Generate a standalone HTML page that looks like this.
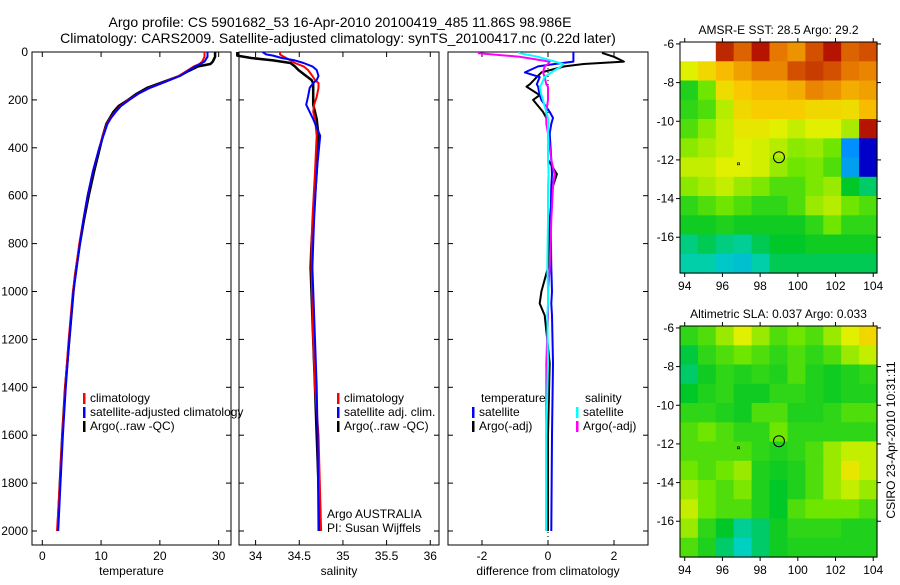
<!DOCTYPE html>
<html><head><meta charset="utf-8"><style>
body{margin:0;background:#fff}
svg text{font-family:"Liberation Sans",sans-serif;fill:#000}
</style></head><body>
<svg id="fig" width="900" height="580" viewBox="0 0 900 580" xmlns="http://www.w3.org/2000/svg">
<rect width="900" height="580" fill="#fff"/>
<text x="340" y="27" font-size="14" text-anchor="middle">Argo profile: CS 5901682_53 16-Apr-2010 20100419_485 11.86S 98.986E</text>
<text x="338" y="43" font-size="14" text-anchor="middle">Climatology: CARS2009. Satellite-adjusted climatology: synTS_20100417.nc (0.22d later)</text>
<g id="g"></g>
</svg>
<script>
// ---- profile data ----
const tDepth=[0,20,40,50,60,80,100,125,150,175,200,225,250,275,300,350,400,500,600,700,800,930,1000,1200,1400,1600,1800,2000];
const tClim=[27.6,27.6,27.2,26.7,25.8,24.5,23.2,20.8,18.2,16.3,14.7,13.3,12.4,11.6,11.0,10.3,9.7,8.6,7.7,7.0,6.3,5.6,5.2,4.5,3.9,3.4,3.0,2.5];
const tSat=[28.1,28.1,27.6,26.9,26.0,24.7,23.4,20.9,18.3,16.3,14.8,13.4,12.5,11.7,11.1,10.4,9.7,8.6,7.7,7.0,6.4,5.7,5.3,4.6,4.0,3.5,3.1,2.7];
const tArgo=[29.4,29.4,29.0,28.6,26.5,24.8,23.3,20.6,17.8,16.0,14.6,13.0,12.1,11.5,10.9,10.3,9.8,8.8,7.9,7.1,6.4,5.6,5.3,4.6,3.9,3.4,3.0,2.6];
const sDepth=[0,10,15,25,35,46,60,75,100,117,130,150,187,220,250,280,350,500,700,800,900,1200,1400,1600,2000];
const sClim=[34.28,34.28,34.3,34.35,34.4,34.45,34.55,34.6,34.65,34.68,34.72,34.72,34.7,34.67,34.66,34.68,34.7,34.68,34.65,34.64,34.64,34.66,34.68,34.72,34.75];
const sSat=[34.08,34.12,34.2,34.3,34.45,34.55,34.65,34.7,34.72,34.7,34.66,34.62,34.6,34.58,34.62,34.66,34.74,34.7,34.67,34.66,34.65,34.68,34.7,34.71,34.72];
const sArgo=[33.79,33.79,33.79,33.95,34.2,34.4,34.45,34.49,34.58,34.64,34.66,34.66,34.66,34.66,34.68,34.7,34.72,34.7,34.66,34.64,34.63,34.66,34.68,34.7,34.74];
const dDepth=[0,5,20,40,50,60,85,105,135,145,180,200,250,275,300,340,450,510,560,700,900,1000,1050,1100,1300,1600,2000];
const dTempSat=[0.77,0.77,0.77,0.77,0.2,-0.3,-0.7,-0.25,-0.34,-0.3,-0.25,-0.2,0.05,0.15,0.1,0.05,0.1,0.12,0.1,0.08,0.1,0.12,0.1,0.12,0.15,0.12,0.1];
const dTempArgo=[1.66,1.66,2.0,2.3,1.08,0.5,-0.2,-0.34,-0.55,-0.65,-0.25,-0.45,-0.15,-0.05,0.0,0.0,0.0,0.27,0.15,0.05,0.0,-0.2,-0.25,-0.1,0.05,0.0,0.0];
const dSalSat=[-0.86,-0.86,-0.3,0.2,0.46,0.4,0.1,-0.1,-0.2,-0.25,-0.2,-0.15,-0.05,0.0,0.0,0.0,0.0,0.02,0.0,0.0,-0.02,0.0,0.0,-0.02,0.0,-0.05,-0.05];
const dSalArgo=[-2.1,-2.1,-0.86,0.05,0.0,-0.1,-0.15,-0.1,-0.05,0.0,0.0,0.0,-0.05,-0.05,-0.05,0.0,0.1,0.2,0.15,0.1,0.05,0.0,0.0,0.0,-0.05,-0.05,-0.05];
const depthTicks=[0,200,400,600,800,1000,1200,1400,1600,1800,2000];
const tTicks=[0,10,20,30];
const sTicks=[34,34.5,35,35.5,36];
const dTicks=[-2,0,2];
// ---- map data (colormap index 0..1, null = no data), rows from -6 southward ----
const sstGrid=[
[null,null,0.88,0.82,0.9,0.8,0.76,0.84,0.9,0.82,0.84],
[0.6,0.65,0.7,0.74,0.78,0.78,0.84,0.86,0.84,0.8,0.78],
[0.47,0.52,0.64,0.68,0.7,0.7,0.72,0.78,0.76,0.72,0.74],
[0.48,0.5,0.57,0.65,0.67,0.67,0.67,0.65,0.65,0.64,0.7],
[0.5,0.54,0.58,0.62,0.62,0.6,0.58,0.6,0.6,0.56,0.9],
[0.54,0.56,0.58,0.6,0.59,0.57,0.54,0.55,0.52,0.3,0.15],
[0.58,0.58,0.6,0.6,0.59,0.55,0.52,0.53,0.5,0.32,0.15],
[0.54,0.56,0.58,0.55,0.53,0.5,0.5,0.53,0.55,0.45,0.42],
[0.48,0.5,0.52,0.5,0.48,0.48,0.5,0.55,0.57,0.52,0.5],
[0.46,0.46,0.47,0.46,0.46,0.46,0.46,0.48,0.52,0.48,0.48],
[0.41,0.43,0.41,0.4,0.43,0.45,0.45,0.46,0.46,0.46,0.46],
[0.39,0.39,0.37,0.36,0.39,0.43,0.43,0.43,0.43,0.43,0.43]];
const slaGrid=[
[0.48,0.5,0.55,0.6,0.55,0.5,0.52,0.5,0.55,0.6,0.65],
[0.44,0.48,0.5,0.52,0.5,0.48,0.5,0.48,0.5,0.55,0.58],
[0.42,0.46,0.48,0.47,0.48,0.47,0.5,0.47,0.46,0.47,0.48],
[0.45,0.47,0.48,0.46,0.46,0.48,0.48,0.47,0.46,0.47,0.47],
[0.48,0.48,0.47,0.46,0.5,0.5,0.47,0.47,0.48,0.5,0.5],
[0.5,0.52,0.5,0.48,0.48,0.52,0.48,0.48,0.48,0.48,0.48],
[0.5,0.5,0.5,0.5,0.48,0.47,0.48,0.5,0.55,0.58,0.58],
[0.52,0.5,0.52,0.55,0.47,0.46,0.47,0.5,0.55,0.62,0.58],
[0.55,0.52,0.5,0.53,0.47,0.45,0.47,0.5,0.55,0.58,0.55],
[0.58,0.52,0.5,0.5,0.47,0.45,0.5,0.52,0.52,0.52,0.5],
[0.55,0.48,0.45,0.4,0.42,0.46,0.48,0.48,0.48,0.47,0.47],
[0.5,0.47,0.42,0.38,0.42,0.46,0.47,0.47,0.47,0.47,0.47]];
const lonTicks=[94,96,98,100,102,104];
const latTicks=[-6,-8,-10,-12,-14,-16];
const argoPos=[99.0,-11.86];

const NS='http://www.w3.org/2000/svg';
const G=document.getElementById('g');
function mk(tag,at,parent){const e=document.createElementNS(NS,tag);for(const k in at)e.setAttribute(k,at[k]);(parent||G).appendChild(e);return e;}
function txt(x,y,s,size,anchor,parent){const e=mk('text',{x:x,y:y,'font-size':size,'text-anchor':anchor||'start'},parent);e.textContent=s;return e;}
const yTop=52,yBot=545;
function yD(d){return yTop+d*0.2395;}

function panel(name,x0,x1,v0,v1,ticks,label,showY){
  const g=mk('g',{});
  
  
  const fx=v=>x0+(v-v0)/(v1-v0)*(x1-x0);
  mk('rect',{x:x0,y:yTop,width:x1-x0,height:yBot-yTop,fill:'none',stroke:'#000','stroke-width':1},g);
  ticks.forEach(t=>{const x=fx(t);mk('line',{x1:x,x2:x,y1:yBot,y2:yBot-5,stroke:'#000'},g);mk('line',{x1:x,x2:x,y1:yTop,y2:yTop+5,stroke:'#000'},g);
    const lt=txt(x,560,String(t),12,'middle',g);});
  depthTicks.forEach(d=>{const y=yD(d);mk('line',{x1:x0,x2:x0+5,y1:y,y2:y,stroke:'#000'},g);mk('line',{x1:x1,x2:x1-5,y1:y,y2:y,stroke:'#000'},g);
    if(showY){const lt=txt(x0-4,y+4,String(d),12,'end',g);}});
  const xl=txt((x0+x1)/2,575,label,12,'middle',g);
  
  
  return fx;
}
function series(name,fx,depths,vals,color,w){
  const pts=depths.map((d,i)=>fx(vals[i]).toFixed(1)+','+yD(d).toFixed(1)).join(' ');
  const p=mk('polyline',{points:pts,fill:'none',stroke:color,'stroke-width':w||2,'stroke-linejoin':'round'});
  
  
}
function legend(x,y,color,label,name){
  mk('rect',{x:x,y:y-9,width:2.5,height:11,fill:color});
  const t=txt(x+7,y,label,12,'start');
  
  
}

const fT=panel('temperature-panel',32,231,-1.75,32.1,tTicks,'temperature',true);
series('argo-temperature',fT,tDepth,tArgo,'#000',2.5);
series('climatology-temperature',fT,tDepth,tClim,'#f00',2);
series('satellite-temperature',fT,tDepth,tSat,'#00f',2);
legend(83,402,'#f00','climatology','legend-climatology');
legend(83,416,'#00f','satellite-adjusted climatology','legend-satellite-adjusted');
legend(83,430,'#000','Argo(..raw -QC)','legend-argo');

const fS=panel('salinity-panel',239,439,33.81,36.1,sTicks,'salinity',false);
series('argo-salinity',fS,sDepth,sArgo,'#000',2.5);
series('climatology-salinity',fS,sDepth,sClim,'#f00',2);
series('satellite-salinity',fS,sDepth,sSat,'#00f',2);
legend(337,402,'#f00','climatology','legend-climatology-2');
legend(337,416,'#00f','satellite adj. clim.','legend-satellite-2');
legend(337,430,'#000','Argo(..raw -QC)','legend-argo-2');
const a1=txt(327,518,'Argo AUSTRALIA',12);


const a2=txt(327,532,'PI: Susan Wijffels',12);



const fD=panel('difference-panel',448,648,-3.03,3.03,dTicks,'difference from climatology',false);
mk('line',{x1:fD(0),x2:fD(0),y1:yTop,y2:yBot,stroke:'#000','stroke-dasharray':'1,3','stroke-width':1});
series('argo-temp-diff',fD,dDepth,dTempArgo,'#000',2);
series('sat-temp-diff',fD,dDepth,dTempSat,'#00f',2);
series('argo-sal-diff',fD,dDepth,dSalArgo,'#f0f',2);
series('sat-sal-diff',fD,dDepth,dSalSat,'#0ff',2);
const lt1=txt(481,402,'temperature',12);


const lt2=txt(585,402,'salinity',12);


legend(472,416,'#00f','satellite','legend-temp-satellite');
legend(472,430,'#000','Argo(-adj)','legend-temp-argo');
legend(576,416,'#0ff','satellite','legend-sal-satellite');
legend(576,430,'#f0f','Argo(-adj)','legend-sal-argo');

// ---- maps ----
const cstops=[[0,[0,0,128]],[0.15,[0,0,200]],[0.3,[0,144,255]],[0.38,[0,208,192]],[0.45,[0,200,40]],[0.52,[110,230,0]],[0.6,[225,240,0]],[0.68,[250,200,0]],[0.8,[230,120,0]],[0.92,[170,0,0]],[1,[128,0,0]]];
function cmap(v){for(let i=1;i<cstops.length;i++){if(v<=cstops[i][0]){const a=cstops[i-1],b=cstops[i],t=(v-a[0])/(b[0]-a[0]);const c=a[1].map((x,j)=>Math.round(x+(b[1][j]-x)*t));return 'rgb('+c.join(',')+')';}}return 'rgb(128,0,0)';}
function map(name,y0,y1,grid,title,titleName){
  const x0=680,x1=877,lon0=93.75,lon1=104.2,lat0=-5.9,lat1=-17.85;
  const fx=v=>x0+(v-lon0)/(lon1-lon0)*(x1-x0);
  const fy=v=>y0+(v-lat0)/(lat1-lat0)*(y1-y0);
  const g=mk('g',{});
  
  
  const nr=grid.length,nc=grid[0].length;
  const cw=(x1-x0)/nc,ch=(y1-y0)/nr;
  grid.forEach((row,r)=>row.forEach((v,c)=>{if(v===null)return;
    const cell=mk('rect',{x:(x0+c*cw).toFixed(1),y:(y0+r*ch).toFixed(1),width:(cw+0.6).toFixed(1),height:(ch+0.6).toFixed(1),fill:cmap(v)},g);
    
    }));
  mk('rect',{x:x0,y:y0,width:x1-x0,height:y1-y0,fill:'none',stroke:'#000'},g);
  lonTicks.forEach(t=>{const x=fx(t);mk('line',{x1:x,x2:x,y1:y1,y2:y1+4,stroke:'#000'},g);mk('line',{x1:x,x2:x,y1:y0,y2:y0-4,stroke:'#000'},g);txt(x,y1+17,String(t),12,'middle',g);});
  latTicks.forEach(t=>{const y=fy(t);mk('line',{x1:x0,x2:x0-4,y1:y,y2:y,stroke:'#000'},g);mk('line',{x1:x1,x2:x1+4,y1:y,y2:y,stroke:'#000'},g);txt(x0-6,y+4,String(t),12,'end',g);});
  const c=mk('circle',{cx:fx(argoPos[0]),cy:fy(argoPos[1]),r:5.5,fill:'none',stroke:'#000','stroke-width':1},g);
  
  
  mk('rect',{x:fx(96.8),y:fy(-12.15),width:2,height:2,fill:'none',stroke:'#000','stroke-width':0.7},g);
  const tt=txt((x0+x1)/2,y0-8,title,12,'middle',g);
  
  
}
map('sst-map',42,273,sstGrid,'AMSR-E SST: 28.5 Argo: 29.2','sst-map-title');
map('sla-map',326,557,slaGrid,'Altimetric SLA: 0.037 Argo: 0.033','sla-map-title');
const cs=txt(0,0,'CSIRO 23-Apr-2010 10:31:11',12,'middle');
cs.setAttribute('transform','translate(895,440) rotate(-90)');


</script>
</body></html>
